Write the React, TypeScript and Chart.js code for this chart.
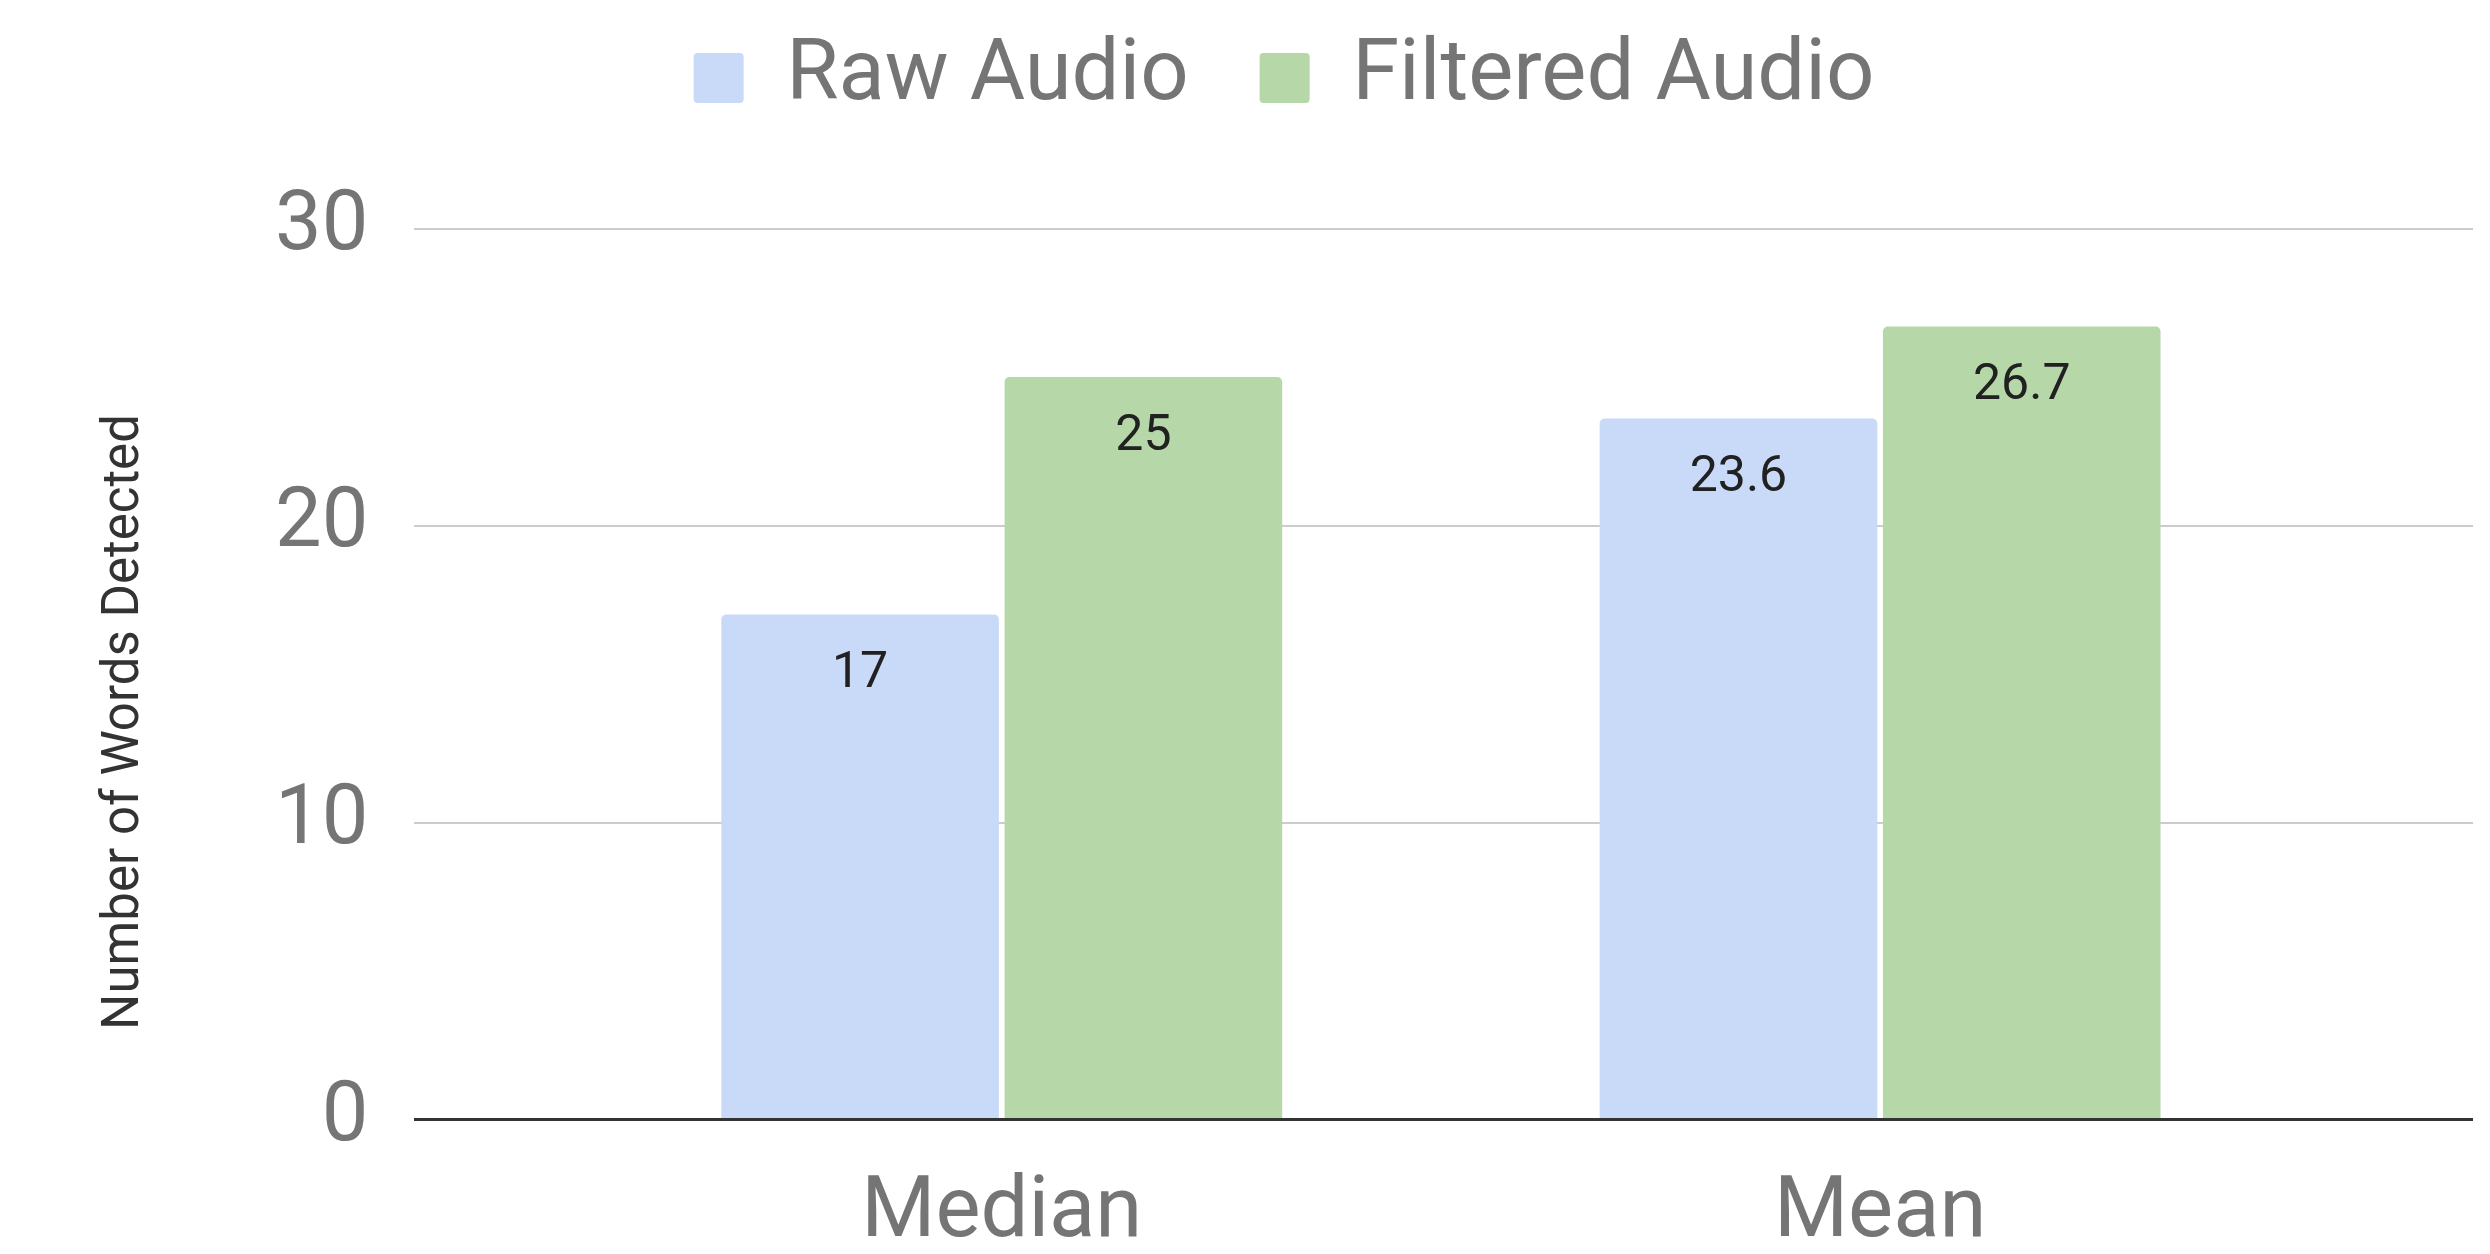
import React, { useEffect, useRef } from "react";
import { Chart, registerables } from "chart.js";

Chart.register(...registerables);

const CATEGORIES = ["Median", "Mean"];
const SERIES_NAMES = ["Raw Audio", "Filtered Audio"];
const RAW_AUDIO = [17, 23.6];
const FILTERED_AUDIO = [25, 26.7];
const Y_TICKS = [0, 10, 20, 30];
const Y_TITLE = "Number of Words Detected";

const COLORS = ["#c9daf8", "#b6d7a8"];
const LEGEND_EXTRA = 98;

const legendSpacer = {
  id: "legendSpacer",
  beforeInit(chart: any) {
    const legend = chart.legend;
    if (!legend || legend.__patched) return;
    const fit = legend.fit;
    legend.fit = function () {
      fit.call(this);
      this.height += LEGEND_EXTRA;
    };
    legend.__patched = true;
  },
};

const valueLabels = {
  id: "valueLabels",
  afterDatasetsDraw(chart: any) {
    const ctx = chart.ctx;
    ctx.save();
    ctx.font = "50px Roboto";
    ctx.fillStyle = "#212121";
    ctx.textAlign = "center";
    ctx.textBaseline = "middle";
    chart.data.datasets.forEach((ds: any, di: number) => {
      const meta = chart.getDatasetMeta(di);
      meta.data.forEach((el: any, i: number) => {
        const v = ds.data[i].y;
        ctx.fillText(String(v), el.x, el.y + 60);
      });
    });
    ctx.restore();
  },
};

const yTitle = {
  id: "yTitle",
  afterDraw(chart: any) {
    const { ctx, chartArea } = chart;
    ctx.save();
    ctx.translate(chartArea.left - 289, (chartArea.top + chartArea.bottom) / 2 + 48);
    ctx.rotate(-Math.PI / 2);
    ctx.font = "51px Roboto";
    ctx.fillStyle = "#333333";
    ctx.textAlign = "center";
    ctx.textBaseline = "middle";
    ctx.fillText(Y_TITLE, 0, 0);
    ctx.restore();
  },
};

export default function App() {
  const ref = useRef<HTMLCanvasElement | null>(null);

  useEffect(() => {
    if (!ref.current) return;
    Chart.defaults.font.family = "Roboto";
    const series = [RAW_AUDIO, FILTERED_AUDIO];
    const chart = new Chart(ref.current, {
      type: "bar",
      data: {
        datasets: series.map((vals, si) => ({
          label: SERIES_NAMES[si],
          data: vals.map((v, i) => ({ x: i + 1, y: v })),
          backgroundColor: COLORS[si],
          borderWidth: 0,
          borderRadius: 5,
          borderSkipped: "start",
          categoryPercentage: 0.645,
          barPercentage: 0.98,
        })),
      },
      options: {
        responsive: false,
        animation: false,
        devicePixelRatio: 1,
        events: [],
        layout: { padding: { top: -35.5, left: 95, right: 17, bottom: -56.5 } },
        plugins: {
          tooltip: { enabled: false },
          legend: {
            display: true,
            position: "top",
            labels: {
              boxWidth: 50,
              boxHeight: 50,
              padding: 71,
              color: "#757575",
              font: { size: 85, family: "Roboto" },
              useBorderRadius: true,
              borderRadius: 4,
            },
          },
        },
        scales: {
          x: {
            type: "linear",
            min: 0.3312,
            max: 2.675,
            offset: false,
            grid: { display: false, drawTicks: false },
            border: { display: false },
            afterBuildTicks: (scale: any) => {
              scale.ticks = CATEGORIES.map((_, i) => ({ value: i + 1 }));
            },
            ticks: {
              padding: 53,
              color: "#757575",
              font: { size: 85, family: "Roboto", lineHeight: 1 },
              maxRotation: 0,
              autoSkip: false,
              callback: (v: any) => CATEGORIES[Math.round(Number(v)) - 1] ?? "",
            },
          },
          y: {
            type: "linear",
            min: Y_TICKS[0],
            max: Y_TICKS[Y_TICKS.length - 1],
            afterBuildTicks: (scale: any) => {
              scale.ticks = Y_TICKS.map((v) => ({ value: v }));
            },
            afterFit: (scale: any) => {
              scale.width += 134;
            },
            grid: {
              drawTicks: false,
              color: (c: any) => (c.tick && c.tick.value === 0 ? "#333333" : "#cccccc"),
              lineWidth: (c: any) => (c.tick && c.tick.value === 0 ? 3 : 2),
            },
            border: { display: false },
            ticks: {
              padding: 46,
              color: "#757575",
              font: { size: 83, family: "Roboto" },
            },
            title: { display: false },
          },
        },
      },
      plugins: [legendSpacer, valueLabels, yTitle],
    } as any);
    return () => chart.destroy();
  }, []);

  return (
    <div style={{ position: "fixed", left: 0, top: 0, width: 2490, height: 1254, background: "#fff" }}>
      <canvas ref={ref} width={2490} height={1254} style={{ display: "block" }} />
    </div>
  );
}
